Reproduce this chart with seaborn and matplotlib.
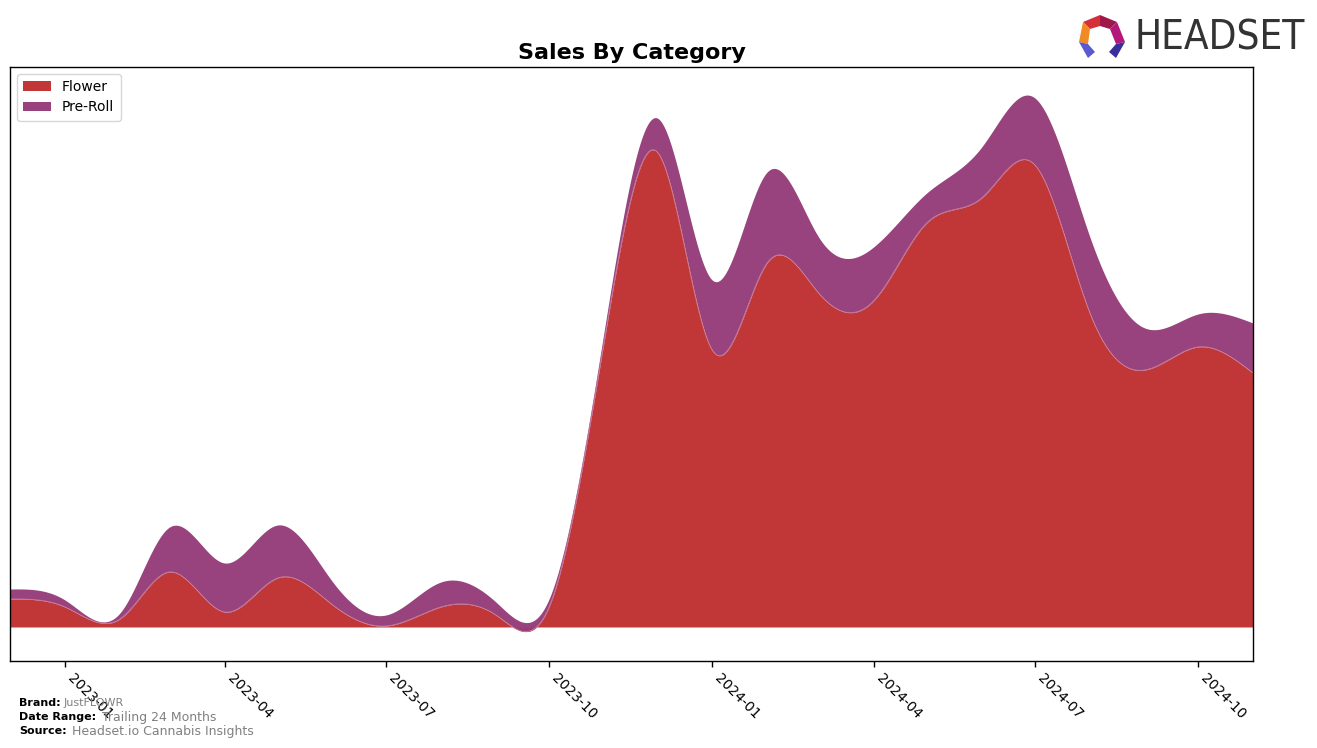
import numpy as np
import pandas as pd
import matplotlib
matplotlib.use("Agg")
import matplotlib.pyplot as plt
import matplotlib.dates as mdates
from matplotlib.patches import Polygon
import seaborn as sns

# ---- data (monthly, arbitrary sales units) ----
months = ["2022-12", "2023-01", "2023-02", "2023-03", "2023-04", "2023-05",
          "2023-06", "2023-07", "2023-08", "2023-09", "2023-10", "2023-11",
          "2023-12", "2024-01", "2024-02", "2024-03", "2024-04", "2024-05",
          "2024-06", "2024-07", "2024-08", "2024-09", "2024-10", "2024-11"]
flower = [28, 20, 8, 55, 15, 49, 22, 1, 20, 12, 20, 285,
          475, 277, 364, 334, 326, 404, 429, 462, 314, 257, 280, 254]
preroll = [10, 7, 6, 45, 49, 53, 23, 11, 25, 13, 8, 10,
           34, 70, 91, 56, 54, 30, 51, 67, 76, 42, 33, 50]
categories = ["Flower", "Pre-Roll"]
tick_labels = ["2023-01", "2023-04", "2023-07", "2023-10",
               "2024-01", "2024-04", "2024-07", "2024-10"]

colors = {"Flower": "#C03333", "Pre-Roll": "#963F7A"}


def natural_cubic_spline(x, y, xs):
    x = np.asarray(x, float)
    y = np.asarray(y, float)
    n = len(x)
    h = np.diff(x)
    A = np.zeros((n, n))
    b = np.zeros(n)
    A[0, 0] = 1
    A[-1, -1] = 1
    for i in range(1, n - 1):
        A[i, i - 1] = h[i - 1]
        A[i, i] = 2 * (h[i - 1] + h[i])
        A[i, i + 1] = h[i]
        b[i] = 3 * ((y[i + 1] - y[i]) / h[i] - (y[i] - y[i - 1]) / h[i - 1])
    c = np.linalg.solve(A, b)
    bb = np.zeros(n - 1)
    d = np.zeros(n - 1)
    for i in range(n - 1):
        bb[i] = (y[i + 1] - y[i]) / h[i] - h[i] * (2 * c[i] + c[i + 1]) / 3
        d[i] = (c[i + 1] - c[i]) / (3 * h[i])
    idx = np.clip(np.searchsorted(x, xs) - 1, 0, n - 2)
    dx = xs - x[idx]
    return y[idx] + bb[idx] * dx + c[idx] * dx ** 2 + d[idx] * dx ** 3


dates = pd.to_datetime([m + "-01" for m in months])
xnum = mdates.date2num(dates)
xs = np.linspace(xnum[0], xnum[-1], 1500)
f_s = natural_cubic_spline(xnum, flower, xs)
p_s = natural_cubic_spline(xnum, preroll, xs)
top_s = f_s + p_s

df = pd.DataFrame({"date": mdates.num2date(xs), "Flower": f_s, "Total": top_s})
df["date"] = pd.to_datetime(df["date"]).dt.tz_localize(None)

sns.set_theme(style="white")
plt.rcParams["font.family"] = ["DejaVu Sans"]
plt.rcParams["text.color"] = "black"
plt.rcParams["xtick.color"] = "black"
plt.rcParams["axes.labelcolor"] = "black"

fig = plt.figure(figsize=(13.17, 7.48), dpi=100)
ax = fig.add_axes([10 / 1317, 1 - 661 / 748, 1243 / 1317, 594 / 748])

ax.fill_between(df["date"], 0, df["Flower"], color=colors["Flower"], lw=0,
                label="Flower", alpha=0.98)
ax.fill_between(df["date"], df["Flower"], df["Total"], color=colors["Pre-Roll"],
                lw=0, label="Pre-Roll", alpha=0.98)
sns.lineplot(data=df, x="date", y="Flower", ax=ax, color="#d98aa0",
             lw=0.6, alpha=0.8, legend=False)

ax.set_xlim(dates[0], dates[-1])
ax.set_ylim(-34, 560)
ax.set_xlabel("")
ax.set_ylabel("")
ax.set_yticks([])
ticks = pd.to_datetime([t + "-01" for t in tick_labels])
ax.set_xticks(ticks)
ax.set_xticklabels(tick_labels, rotation=-45, ha="left", fontsize=10,
                   color="black")
ax.tick_params(axis="x", length=4, width=1, color="black", bottom=True, pad=3)
for s in ax.spines.values():
    s.set_color("black")
    s.set_linewidth(1)

ax.set_title("Sales By Category", fontsize=16, fontweight="bold", pad=6,
             color="black")
leg = ax.legend(loc="upper left", fontsize=10, frameon=True,
                handlelength=2, borderpad=0.45, labelspacing=0.45)
leg.get_frame().set_edgecolor("#cccccc")

# footer
fig.text(19 / 1317, 1 - 703 / 748, "Brand:", fontsize=8, fontweight="bold", va="center")
fig.text(64 / 1317, 1 - 703 / 748, "JustFLOWR", fontsize=8, color="gray", va="center")
fig.text(19 / 1317, 1 - 717 / 748, "Date Range:", fontsize=8, fontweight="bold", va="center")
fig.text(102 / 1317, 1 - 717 / 748, "Trailing 24 Months", fontsize=9, color="gray", va="center")
fig.text(19 / 1317, 1 - 731 / 748, "Source:", fontsize=8, fontweight="bold", va="center")
fig.text(72 / 1317, 1 - 731 / 748, "Headset.io Cannabis Insights", fontsize=9,
         color="gray", va="center")

# logo
fig.text(1135 / 1317, 1 - 38 / 748, "HEADSET", fontsize=29, color="#333333",
         va="center", ha="left", fontfamily="DejaVu Sans",
         fontstretch="condensed")
def fp(x, y):
    return (x / 1317, 1 - y / 748)
logo_polys = [
    ([(1083, 22), (1100, 15), (1100, 26), (1090, 29)], "#d4303a"),
    ([(1100, 15), (1117, 22), (1110, 29), (1100, 26)], "#a0174a"),
    ([(1117, 22), (1125, 42), (1116, 44), (1110, 29)], "#b4187a"),
    ([(1083, 22), (1090, 29), (1088, 44), (1079, 42)], "#f08a24"),
    ([(1079, 42), (1088, 44), (1095, 52), (1088, 58)], "#5a5ad0"),
    ([(1125, 42), (1116, 44), (1109, 52), (1116, 58)], "#3a2f9a"),
]
for pts, c in logo_polys:
    fig.patches.append(Polygon([fp(*p) for p in pts], closed=True, fc=c, ec="none",
                               transform=fig.transFigure, figure=fig))

fig.savefig("out.png", dpi=100)
